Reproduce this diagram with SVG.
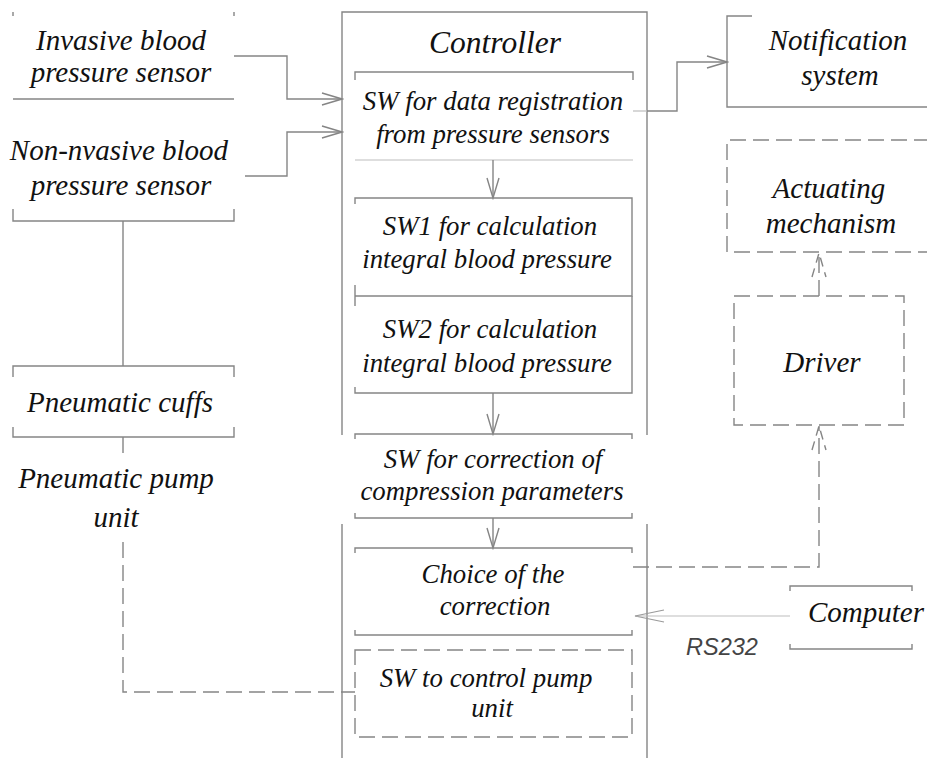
<svg xmlns="http://www.w3.org/2000/svg" width="927" height="758" viewBox="0 0 927 758">
<defs>
<style>
.ln{fill:none;stroke:#858585;stroke-width:1.4}
.lt{fill:none;stroke:#bdbdbd;stroke-width:1.2}
.ds{fill:none;stroke:#858585;stroke-width:1.4;stroke-dasharray:16 7}
.t{font-family:"Liberation Serif","Times New Roman",serif;font-style:italic;font-size:26.8px;fill:#111;text-anchor:middle}
.o{font-size:29px}
.big{font-size:31.5px}
.rs{font-family:"Liberation Sans",Arial,sans-serif;font-style:italic;font-size:23.5px;fill:#444;text-anchor:middle}
</style>
<marker id="ah" viewBox="-26 -8 28 16" markerWidth="28" markerHeight="16" refX="0" refY="0" orient="auto" markerUnits="userSpaceOnUse">
<path d="M-20,-6 L0,0 L-20,6" fill="none" stroke="#858585" stroke-width="1.4"/>
</marker>
<marker id="ahl" viewBox="-32 -8 34 16" markerWidth="34" markerHeight="16" refX="0" refY="0" orient="auto" markerUnits="userSpaceOnUse">
<path d="M-29,-6 L0,0 L-29,6" fill="none" stroke="#9a9a9a" stroke-width="1.2"/>
</marker>
<marker id="ahd" viewBox="-28 -9 30 18" markerWidth="30" markerHeight="18" refX="0" refY="0" orient="auto" markerUnits="userSpaceOnUse">
<path d="M-24,-7 L0,0 L-24,7" fill="none" stroke="#858585" stroke-width="1.4" stroke-dasharray="9 6"/>
</marker>
</defs>
<rect width="927" height="758" fill="#fff"/>

<g id="invasive-sensor">
<path class="ln" d="M13,12 V16 M234,12 V16 M13,99 H234"/>
<text class="t o" x="121" y="50">Invasive blood</text>
<text class="t o" x="121" y="82">pressure sensor</text>
</g>
<g id="noninvasive-sensor">
<path class="ln" d="M13,209 V221 H234 V209"/>
<text class="t o" x="119" y="160">Non-nvasive blood</text>
<text class="t o" x="121" y="195">pressure sensor</text>
</g>
<g id="pneumatic-cuffs">
<path class="ln" d="M13,377 V366 H234 V377 M13,427 V437 H234 V427"/>
<text class="t o" x="120" y="412">Pneumatic cuffs</text>
</g>
<g id="pneumatic-pump-unit">
<text class="t o" x="116" y="488">Pneumatic pump</text>
<text class="t o" x="116" y="527">unit</text>
</g>

<g id="controller">
<path class="ln" d="M342,435 V12 H647 V435 M342,524 V758 M647,524 V758"/>
<text class="t big" x="495" y="53">Controller</text>
</g>
<g id="sw-registration">
<path class="ln" d="M355,80 V72 H633 V80"/>
<path class="lt" d="M355,160 H633"/>
<text class="t" x="493" y="110">SW for data registration</text>
<text class="t" x="493" y="143">from pressure sensors</text>
</g>
<g id="sw1">
<path class="ln" d="M355,204 V198 H632 V296 H355 M355,285 V306"/>
<text class="t" x="490" y="235">SW1 for calculation</text>
<text class="t" x="487" y="268">integral blood pressure</text>
</g>
<g id="sw2">
<path class="ln" d="M632,296 V393 H355 V387"/>
<text class="t" x="490" y="338">SW2 for calculation</text>
<text class="t" x="487" y="372">integral blood pressure</text>
</g>
<g id="sw-correction">
<path class="ln" d="M355,439 V434 H632 V439 M355,513 V518 H632 V513"/>
<text class="t" x="493" y="468">SW for correction of</text>
<text class="t" x="492" y="500">compression parameters</text>
</g>
<g id="choice">
<path class="ln" d="M355,553 V548 H632 V553 M355,630 V635 H632 V630"/>
<text class="t" x="493" y="583">Choice of the</text>
<text class="t" x="495" y="615">correction</text>
</g>
<g id="sw-pump">
<rect class="ds" x="355" y="650" width="277" height="87"/>
<text class="t" x="486" y="687">SW to control pump</text>
<text class="t" x="492" y="717">unit</text>
</g>

<g id="notification">
<path class="ln" d="M752,16 H727 V107 H927"/>
<text class="t o" x="838" y="50">Notification</text>
<text class="t o" x="840" y="85">system</text>
</g>
<g id="actuating">
<path class="ds" d="M930,140 H727 V252 H930"/>
<text class="t o" x="829" y="198">Actuating</text>
<text class="t o" x="831" y="233">mechanism</text>
</g>
<g id="driver">
<rect class="ds" x="734" y="296" width="170" height="129"/>
<text class="t o" x="822" y="372">Driver</text>
</g>
<g id="computer">
<path class="ln" d="M790,591 V586 H912 V591 M790,644 V649 H912 V644"/>
<text class="t o" x="866" y="622">Computer</text>
</g>

<g id="connectors">
<path class="ln" d="M234,56 H287 V99 H342" marker-end="url(#ah)"/>
<path class="ln" d="M245,176 H287 V132 H342" marker-end="url(#ah)"/>
<path class="lt" d="M633,111 H647"/>
<path class="ln" d="M647,111 H677 V62 H727" marker-end="url(#ah)"/>
<path class="ln" d="M493,160 V198" marker-end="url(#ah)"/>
<path class="ln" d="M493,393 V434" marker-end="url(#ah)"/>
<path class="ln" d="M493,518 V548" marker-end="url(#ah)"/>
<path class="ln" d="M123,221 V366"/>
<path class="ds" d="M123,437 V460"/>
<path class="ds" d="M123,542 V692 H355"/>
<path class="ds" d="M819,296 V253" marker-end="url(#ahd)"/>
<path class="ds" d="M633,567 H819 V426" marker-end="url(#ahd)"/>
<path class="lt" d="M790,616 H635" marker-end="url(#ahl)"/>
<text class="rs" x="722" y="655">RS232</text>
</g>
</svg>
